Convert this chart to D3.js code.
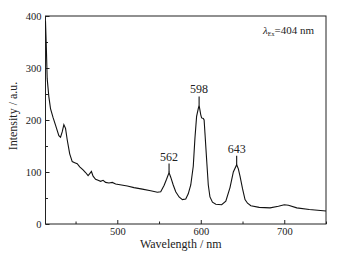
<!DOCTYPE html>
<html>
<head>
  <meta charset="utf-8">
  <title>Emission spectrum</title>
  <script src="https://d3js.org/d3.v7.min.js"></script>
  <style>
    body { margin: 0; background: #fff; }
    text { font-family: "Liberation Serif", "Times New Roman", serif; fill: #222; }
  </style>
</head>
<body>
  <div id="chart"></div>
  <script>
    // spectrum (nm, intensity)
    var wavelength = [414, 415, 416, 418, 420, 423, 426, 430, 432, 434, 436, 438, 440, 443, 446, 449,
      452, 455, 459, 462, 465, 467, 469, 471, 474, 477, 480, 483, 486, 490, 494, 498, 505, 512, 520,
      530, 540, 548, 552, 556, 559, 562, 564, 567, 570, 574, 578, 582, 585, 588, 591, 593, 595, 597,
      598, 600, 601, 603, 604, 605, 607, 609, 611, 614, 618, 625, 630, 635, 639, 643, 645, 647, 650,
      653, 656, 660, 670, 683, 693, 700, 705, 715, 730, 750];
    var intensity = [390, 340, 280, 245, 222, 205, 190, 170, 167, 177, 191, 184, 162, 135, 120, 118,
      116, 110, 104, 99, 93, 97, 101, 92, 86, 84, 82, 84, 80, 79, 80, 77, 75, 73, 70,
      67, 64, 61, 62, 74, 86, 99, 90, 75, 62, 52, 47, 48, 58, 75, 111, 165, 207, 222,
      228, 210, 204, 203, 200, 175, 124, 75, 52, 42, 38, 37, 44, 70, 100, 114, 106, 92, 68,
      47, 40, 35, 32, 31, 34, 37, 36, 31, 28, 25];

    var peakNm = [562, 598, 643];
    var peakValue = [99, 228, 114];

    var xTicks = [500, 600, 700];
    var xMinor = [450, 550, 650, 750];
    var yTicks = [0, 100, 200, 300, 400];
    var yMinor = [50, 150, 250, 350];

    var svg = d3.select("#chart")
      .append("svg")
      .attr("width", 347)
      .attr("height", 259);

    var margin = {top: 16, right: 21, bottom: 35, left: 45.5};
    var width = 347 - margin.left - margin.right;
    var height = 259 - margin.top - margin.bottom;

    var x = d3.scaleLinear().domain([414, 750]).range([0, width]);
    var y = d3.scaleLinear().domain([0, 400]).range([height, 0]);

    var g = svg.append("g")
      .attr("transform", "translate(" + margin.left + "," + margin.top + ")");

    // frame
    g.append("rect")
      .attr("width", width)
      .attr("height", height)
      .attr("fill", "none")
      .attr("stroke", "#222")
      .attr("stroke-width", 1);

    // minor ticks first, the labelled axes on top
    g.append("g")
      .attr("transform", "translate(0," + height + ")")
      .call(d3.axisBottom(x).tickValues(xMinor).tickSize(-2.5).tickFormat(""))
      .call(function(a) { a.select(".domain").remove(); });
    g.append("g")
      .call(d3.axisLeft(y).tickValues(yMinor).tickSize(-2.5).tickFormat(""))
      .call(function(a) { a.select(".domain").remove(); });

    var xAxis = g.append("g")
      .attr("transform", "translate(0," + height + ")")
      .call(d3.axisBottom(x).tickValues(xTicks).tickSize(-4).tickPadding(4));
    var yAxis = g.append("g")
      .call(d3.axisLeft(y).tickValues(yTicks).tickSize(-4).tickPadding(4));

    [xAxis, yAxis].forEach(function(a) {
      a.select(".domain").remove();
      a.selectAll("text")
        .style("font-family", "'Liberation Serif', serif")
        .style("font-size", "10.5px")
        .attr("fill", "#222");
    });
    g.selectAll(".tick line").attr("stroke", "#222");

    // spectrum
    var pts = wavelength.map(function(w, i) { return [w, intensity[i]]; });
    g.append("path")
      .datum(pts)
      .attr("fill", "none")
      .attr("stroke", "#111")
      .attr("stroke-width", 1.1)
      .attr("d", d3.line()
        .x(function(d) { return x(d[0]); })
        .y(function(d) { return y(d[1]); }));

    // peak labels
    peakNm.forEach(function(p, i) {
      g.append("line")
        .attr("x1", x(p)).attr("x2", x(p))
        .attr("y1", y(peakValue[i])).attr("y2", y(peakValue[i]) - 9)
        .attr("stroke", "#111")
        .attr("stroke-width", 1.1);
      g.append("text")
        .attr("x", x(p))
        .attr("y", y(peakValue[i]) - 12)
        .attr("text-anchor", "middle")
        .style("font-size", "12px")
        .text(p);
    });

    // excitation note
    var note = g.append("text")
      .attr("x", width - 12)
      .attr("y", 18)
      .attr("text-anchor", "end")
      .style("font-size", "11px");
    note.append("tspan").style("font-style", "italic").text("λ");
    note.append("tspan").attr("dy", 2).style("font-size", "6px").text("Ex");
    note.append("tspan").attr("dy", -2).text("=404 nm");

    // axis titles
    svg.append("text")
      .attr("x", margin.left + width / 2 - 5)
      .attr("y", 248)
      .attr("text-anchor", "middle")
      .style("font-size", "12px")
      .text("Wavelength / nm");

    svg.append("text")
      .attr("transform", "rotate(-90)")
      .attr("x", -116)
      .attr("y", 17)
      .attr("text-anchor", "middle")
      .style("font-size", "12px")
      .text("Intensity / a.u.");
  </script>
</body>
</html>
